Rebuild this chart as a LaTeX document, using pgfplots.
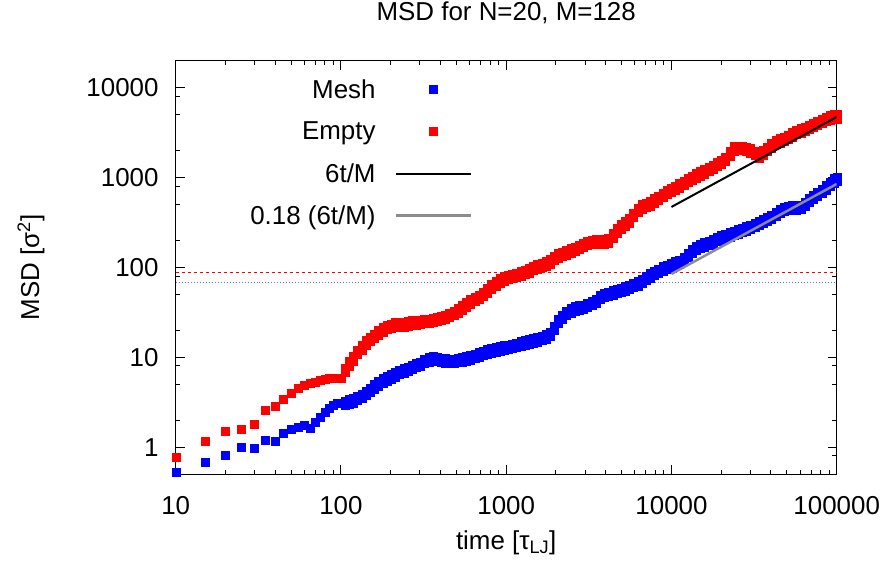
\documentclass[border=0pt]{standalone}
\usepackage{pgfplots}
\pgfplotsset{compat=1.18}
\usepackage{pgfplotstable}
\usepackage{fontspec}
\setmainfont{Liberation Sans}
\definecolor{lgray}{RGB}{140,140,140}
\definecolor{lblue}{RGB}{110,110,255}
\pgfplotstableread{
t mesh empty
10 0.53 0.77
15 0.69 1.16
20 0.82 1.50
25 0.99 1.58
30 0.98 1.79
35 1.20 2.60
40 1.17 2.88
45 1.44 3.40
50 1.57 3.95
55 1.68 4.55
60 1.75 4.85
65 1.62 5.10
70 1.90 5.30
75 2.15 5.50
80 2.45 5.65
85 2.70 5.80
90 2.95 5.85
95 3.05 5.90
100 3.10 5.90
}\msdA
\pgfplotstableread{
t mesh empty
106 3.10 7.20
112 3.20 8.50
119 3.30 9.60
126 3.50 11.3
134 3.70 12.8
142 4.00 14.5
150 4.30 15.8
159 4.70 17.2
169 5.10 18.8
179 5.50 20.2
190 5.80 21.5
201 6.10 22.3
213 6.40 23.0
226 6.80 23.3
240 7.10 23.1
254 7.40 23.6
269 7.80 24.2
285 8.10 24.0
302 8.40 24.5
320 9.00 25.2
340 9.40 25.0
360 9.60 25.8
382 9.50 26.5
405 9.30 27.0
429 9.20 28.0
455 9.00 29.5
482 9.10 31.0
511 9.30 33.0
542 9.40 35.5
574 9.60 38.5
609 9.90 41.5
645 10.3 44.0
684 10.7 46.5
725 11.1 50.0
769 11.5 55.0
815 11.8 61.0
864 12.1 66.0
915 12.5 71.0
970 12.8 75.0
1030 13.0 78.0
1090 13.2 80.0
1155 13.6 82.0
1225 14.1 85.0
1300 14.5 88.0
1375 14.9 92.0
1460 15.3 97.0
1545 15.7 102
1640 16.2 106
1740 17.0 110
1840 18.0 116
1950 21.0 126
2070 25.0 134
2190 28.0 140
2320 31.0 146
2460 33.0 153
2610 34.5 160
2770 35.5 168
2930 36.0 176
3110 38.0 184
3300 40.0 190
3500 42.0 192
3700 46.5 190
3920 49.0 193
4160 50.5 198
4410 52.0 225
4670 54.0 255
4950 56.0 283
5250 58.0 305
5570 60.0 328
5900 63.0 380
6250 66.0 430
6630 70.0 470
7030 76.0 490
7450 81.0 508
7900 86.0 550
8370 91.0 590
8870 96.0 630
9400 101 680
9970 105 715
10570 110 760
11200 114 805
11870 123 860
12580 137 925
13340 150 985
14140 162 1040
14990 172 1095
15890 179 1160
16840 186 1225
17850 193 1300
18920 204 1390
20060 213 1480
21260 222 1590
22540 231 1830
23890 240 2090
25320 249 2120
26840 258 2110
28450 268 2060
30160 278 1980
31970 292 1860
33890 308 1740
35920 324 1870
38080 341 2050
40360 362 2240
42780 390 2440
45350 420 2550
48070 440 2650
50960 455 2800
54010 462 2980
57250 460 3160
60690 466 3300
64330 505 3430
68190 560 3620
72280 605 3800
76610 650 3980
81210 700 4200
86080 765 4420
91250 840 4590
96720 915 4700
100000 955 4720
}\msdB
\begin{document}
\begin{tikzpicture}
\useasboundingbox (0,0) rectangle (892bp,565bp);
\begin{axis}[
  at={(175.7bp,90.7bp)}, anchor=south west,
  scale only axis, width=661bp, height=413.6bp,
  xmode=log, ymode=log,
  xmin=10, xmax=100000, ymin=0.5, ymax=19800,
  clip mode=individual,
  font=\fontsize{26}{31}\selectfont,
  /pgf/number format/assume math mode=true,
  axis line style={line width=1bp},
  tick style={line width=1bp, black},
  tick align=inside,
  major tick length=9bp, minor tick length=4.5bp,
  xtick={10,100,1000,10000,100000},
  xticklabels={10,100,1000,10000,100000},
  ytick={1,10,100,1000,10000},
  yticklabels={1,10,100,1000,10000},
  minor ytick={0.8,2,5,8,20,50,80,200,500,800,2000,5000,8000},
  xticklabel style={anchor=center, inner sep=0pt, yshift=-31bp},
  yticklabel style={anchor=east, inner sep=0pt, xshift=-17bp},
  title={MSD for N=20, M=128},
  title style={at={(axis description cs:0.5,1.1014)}, anchor=center, inner sep=0pt},
  xlabel={time [τ\textsubscript{LJ}]},
  xlabel style={at={(axis description cs:0.5,-0.1658)}, anchor=center, inner sep=0pt},
  ylabel={MSD [σ\textsuperscript{2}]},
  ylabel style={at={(axis description cs:-0.2189,0.5)}, anchor=center, inner sep=0pt},
  legend style={draw=none, fill=none, inner sep=0pt, outer sep=0pt,
    at={(axis description cs:0.4483,0.9807)}, anchor=north east,
    nodes={inner sep=0pt, minimum height=42bp}, column sep=19bp, row sep=0pt,
    font=\fontsize{26}{31}\selectfont},
  legend plot pos=right,
  legend cell align=right,
  legend image code/.code={\draw[mark repeat=2,mark phase=2,#1] plot coordinates {(0bp,0bp) (37.5bp,0bp) (75bp,0bp)};},
]
\addplot[red, dashed, line width=0.8bp, dash pattern=on 3bp off 3bp, forget plot] coordinates {(10,87) (100000,87)};
\addplot[lblue, dotted, line width=1bp, forget plot] coordinates {(10,68) (100000,68)};
\addplot[only marks, mark=square*, mark size=4bp, mark options={draw=none, fill=blue}, blue] table[x=t, y=mesh] {\msdA};
\addlegendentry{Mesh}
\addplot[only marks, mark=square*, mark size=4bp, mark options={draw=none, fill=red}, red] table[x=t, y=empty] {\msdA};
\addlegendentry{Empty}
\addplot[only marks, mark=square*, mark size=4bp, mark options={draw=none, fill=blue, yscale=1.55}, blue, forget plot] table[x=t, y=mesh] {\msdB};
\addplot[only marks, mark=square*, mark size=4bp, mark options={draw=none, fill=red, yscale=1.55}, red, forget plot] table[x=t, y=empty] {\msdB};
\addplot[black, line width=2bp] coordinates {(10000,468.75) (100000,4687.5)};
\addlegendentry{6t/M}
\addplot[lgray, line width=2.5bp] coordinates {(10000,84.375) (100000,843.75)};
\addlegendentry{0.18 (6t/M)}
\end{axis}
\end{tikzpicture}
\end{document}
